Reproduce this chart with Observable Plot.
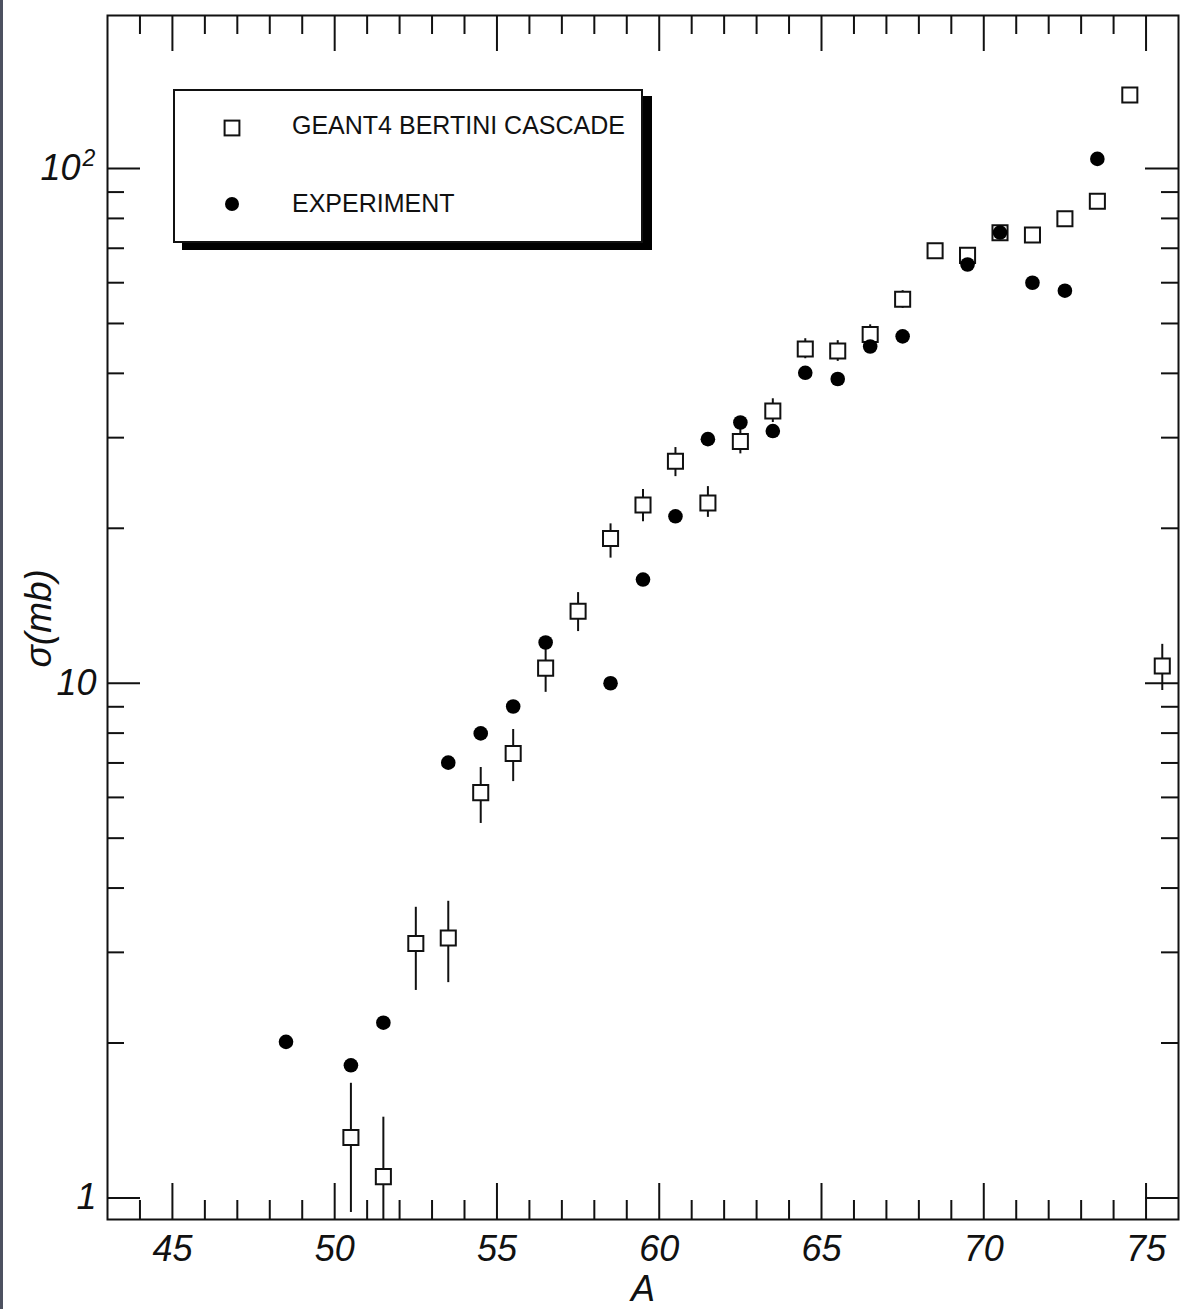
<!DOCTYPE html>
<html>
<head>
<meta charset="utf-8">
<script src="https://cdn.jsdelivr.net/npm/d3@7"></script>
<script src="https://cdn.jsdelivr.net/npm/@observablehq/plot@0.6"></script>
<style>
  body { margin: 0; background: #fff; }
  #wrap { position: relative; width: 1188px; height: 1309px; overflow: hidden; background: #fff; }
  #wrap svg { position: absolute; left: 0; top: 0; }
  #edge { position: absolute; left: 0; top: 0; width: 3px; height: 1309px; background: #4d5160; }
  #legend { position: absolute; left: 173px; top: 89px; width: 470px; height: 154px; box-sizing: border-box;
            border: 2px solid #111; background: #fff; box-shadow: 9px 7px 0 #000;
            font-family: "Liberation Sans", Arial, sans-serif; font-size: 25px; color: #111; }
  .lg-item { position: absolute; left: 117px; line-height: 1; white-space: nowrap; }
  .lg-sym { position: absolute; width: 20px; height: 20px; }
</style>
</head>
<body>
<div id="wrap">
  <div id="edge"></div>
  <div id="legend">
    <svg class="lg-sym" style="left:47px; top:27px" width="20" height="20"><rect x="2.6" y="2.6" width="14.8" height="14.8" fill="#fff" stroke="#111" stroke-width="2"/></svg>
    <div class="lg-item" style="top:22px">GEANT4 BERTINI CASCADE</div>
    <svg class="lg-sym" style="left:47px; top:103px" width="20" height="20"><circle cx="10" cy="10" r="7" fill="#000"/></svg>
    <div class="lg-item" style="top:100px">EXPERIMENT</div>
  </div>
</div>
<script>
// ---- data ----
const geantA     = [50.5, 51.5, 52.5, 53.5, 54.5, 55.5, 56.5, 57.5, 58.5, 59.5, 60.5, 61.5, 62.5, 63.5, 64.5, 65.5, 66.5, 67.5, 68.5, 69.5, 70.5, 71.5, 72.5, 73.5, 74.5, 75.5];
const geantSigma = [1.31, 1.10, 3.12, 3.20, 6.13, 7.30, 10.7, 13.8, 19.1, 22.2, 27.0, 22.4, 29.5, 33.8, 44.6, 44.2, 47.6, 55.7, 69.2, 67.8, 75.0, 74.3, 79.9, 86.4, 139, 10.8];
const geantLow   = [0.937, 0.85, 2.53, 2.62, 5.34, 6.44, 9.6, 12.6, 17.5, 20.6, 25.2, 21.0, 27.9, 32.1, 42.7, 42.2, 45.6, 53.5, 67.5, 66.2, 73.3, 72.6, 78.1, 84.5, 136, 9.68];
const geantHigh  = [1.67, 1.435, 3.67, 3.77, 6.86, 8.13, 11.8, 15.0, 20.4, 23.8, 28.7, 24.1, 31.2, 35.7, 46.7, 46.3, 49.7, 57.9, 70.9, 69.4, 76.8, 76.1, 81.7, 88.3, 142, 11.9];

const expA     = [48.5, 50.5, 51.5, 53.5, 54.5, 55.5, 56.5, 58.5, 59.5, 60.5, 61.5, 62.5, 63.5, 64.5, 65.5, 66.5, 67.5, 69.5, 70.5, 71.5, 72.5, 73.5];
const expSigma = [2.01, 1.81, 2.19, 7.01, 7.99, 9.01, 12.0, 10.0, 15.9, 21.1, 29.8, 32.1, 30.9, 40.1, 39.0, 45.1, 47.2, 65.1, 75.1, 60.0, 57.9, 104.4];

const xMajorTicks = [45, 50, 55, 60, 65, 70, 75];
const xMinorTicks = [44, 46, 47, 48, 49, 51, 52, 53, 54, 56, 57, 58, 59, 61, 62, 63, 64, 66, 67, 68, 69, 71, 72, 73, 74];
const yMajorTicks = [1, 10, 100];
const yMinorTicks = [2, 3, 4, 5, 6, 7, 8, 9, 20, 30, 40, 50, 60, 70, 80, 90];
const yPlainLabels = [1, 10];
const yPlainLabelText = ["1", "10"];
const yPowerLabels = [100];
const yPowerBase = "10";
const yPowerExp = "2";
const xTitle = "A";
const yTitle = "σ(mb)";

// ---- tables ----
const geant = geantA.map((a, i) => ({A: a, sigma: geantSigma[i], lo: geantLow[i], hi: geantHigh[i]}));
const experiment = expA.map((a, i) => ({A: a, sigma: expSigma[i]}));

// ---- layout ----
const W = 1188, H = 1309, mL = 107, mR = 10, mT = 15, mB = 90;
const fw = W - mL - mR, fh = H - mT - mB;
const ink = "#111";
const font = "'Liberation Sans', Arial, sans-serif";
const majX = 36, minX = 19, majY = 33, minY = 17;

const chart = Plot.plot({
  width: W, height: H,
  marginLeft: mL, marginRight: mR, marginTop: mT, marginBottom: mB,
  style: {fontFamily: font, color: ink, background: "transparent"},
  x: {domain: [43, 76], axis: null},
  y: {type: "log", domain: [0.908, 198.3], axis: null},
  marks: [
    // ticks (inward, on all four sides)
    Plot.ruleX(xMajorTicks, {x: d => d, insetTop: fh - majX, stroke: ink, strokeWidth: 2}),
    Plot.ruleX(xMajorTicks, {x: d => d, insetBottom: fh - majX, stroke: ink, strokeWidth: 2}),
    Plot.ruleX(xMinorTicks, {x: d => d, insetTop: fh - minX, stroke: ink, strokeWidth: 2}),
    Plot.ruleX(xMinorTicks, {x: d => d, insetBottom: fh - minX, stroke: ink, strokeWidth: 2}),
    Plot.ruleY(yMajorTicks, {y: d => d, insetRight: fw - majY, stroke: ink, strokeWidth: 2}),
    Plot.ruleY(yMajorTicks, {y: d => d, insetLeft: fw - majY, stroke: ink, strokeWidth: 2}),
    Plot.ruleY(yMinorTicks, {y: d => d, insetRight: fw - minY, stroke: ink, strokeWidth: 2}),
    Plot.ruleY(yMinorTicks, {y: d => d, insetLeft: fw - minY, stroke: ink, strokeWidth: 2}),
    Plot.frame({stroke: ink, strokeWidth: 2}),
    // tick labels
    Plot.text(xMajorTicks, {x: d => d, frameAnchor: "bottom", dy: 30, text: d => String(d),
      fontSize: 36, fontStyle: "italic", fill: ink, lineAnchor: "middle"}),
    Plot.text(yPlainLabels, {y: d => d, frameAnchor: "left", dx: -11, textAnchor: "end",
      text: (d, i) => yPlainLabelText[i], fontSize: 36, fontStyle: "italic", fill: ink, lineAnchor: "middle"}),
    Plot.text(yPowerLabels, {y: d => d, frameAnchor: "left", dx: -27, textAnchor: "end",
      text: () => yPowerBase, fontSize: 36, fontStyle: "italic", fill: ink, lineAnchor: "middle"}),
    Plot.text(yPowerLabels, {y: d => d, frameAnchor: "left", dx: -25, dy: -10, textAnchor: "start",
      text: () => yPowerExp, fontSize: 23, fontStyle: "italic", fill: ink, lineAnchor: "middle"}),
    // axis titles
    Plot.text([xTitle], {frameAnchor: "bottom", dy: 70, text: d => d, fontSize: 36, fontStyle: "italic", fill: ink, lineAnchor: "middle"}),
    Plot.text([yTitle], {frameAnchor: "left", dx: -68, dy: 50, rotate: -90, text: d => d, fontSize: 37, fontStyle: "italic", fill: ink, lineAnchor: "middle"}),
    // data
    Plot.ruleX(geant, {x: "A", y1: "lo", y2: "hi", stroke: ink, strokeWidth: 2, clip: true}),
    Plot.dot(geant, {x: "A", y: "sigma", symbol: "square", r: 8.5, fill: "white", stroke: ink, strokeWidth: 2}),
    Plot.dot(experiment, {x: "A", y: "sigma", r: 7.3, fill: "#000"})
  ]
});

const wrap = document.getElementById("wrap");
wrap.insertBefore(chart, wrap.firstChild);
</script>
</body>
</html>
